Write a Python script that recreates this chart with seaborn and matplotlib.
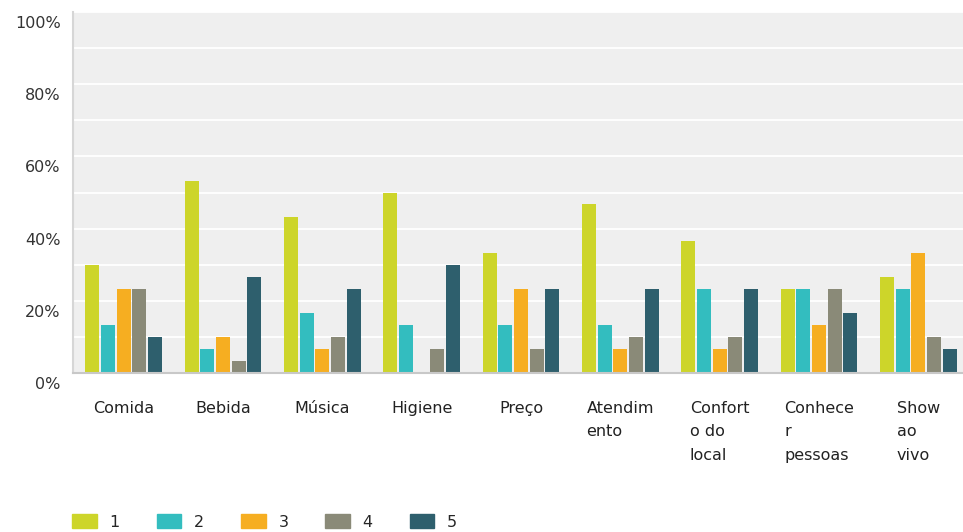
import matplotlib
matplotlib.use("Agg")
import matplotlib.pyplot as plt
import matplotlib.transforms as mtransforms
import numpy as np
import pandas as pd
import seaborn as sns

categories = ["Comida", "Bebida", "Música", "Higiene", "Preço",
              "Atendim\nento", "Confort\no do\nlocal", "Conhece\nr\npessoas", "Show\nao\nvivo"]
series_names = ["1", "2", "3", "4", "5"]
s1 = [30.0, 53.3, 43.3, 50.0, 33.3, 46.7, 36.7, 23.3, 26.7]
s2 = [13.3, 6.7, 16.7, 13.3, 13.3, 13.3, 23.3, 23.3, 23.3]
s3 = [23.3, 10.0, 6.7, 0.0, 23.3, 6.7, 6.7, 13.3, 33.3]
s4 = [23.3, 3.3, 10.0, 6.7, 6.7, 10.0, 10.0, 23.3, 10.0]
s5 = [10.0, 26.7, 23.3, 30.0, 23.3, 23.3, 23.3, 16.7, 6.7]
ytick_values = [0, 20, 40, 60, 80, 100]
ytick_labels = ["0%", "20%", "40%", "60%", "80%", "100%"]
colors = ["#cdd52a", "#33bdbf", "#f6ae21", "#8a8a78", "#2e5f6d"]

rows = []
for name, vals in zip(series_names, [s1, s2, s3, s4, s5]):
    for c, v in zip(categories, vals):
        rows.append({"cat": c, "series": name, "val": v})
df = pd.DataFrame(rows)

sns.set_theme(style="white")
plt.rcParams["font.family"] = ["DejaVu Sans"]

fig = plt.figure(figsize=(9.63, 5.32), dpi=100)
ax = fig.add_axes([73 / 963, 159 / 532, (968 - 73) / 963, 361 / 532])
ax.set_facecolor("#efefef")

sns.barplot(data=df, x="cat", y="val", hue="series", palette=colors,
            order=categories, hue_order=series_names, width=0.79, gap=0.12,
            saturation=1, linewidth=0, ax=ax, legend=True)

ax.set_ylim(0, 100)
ax.set_xlim(-0.51, 8.5)
ax.set_yticks(ytick_values)
ax.set_yticklabels(ytick_labels)
ax.set_yticks([10, 30, 50, 70, 90], minor=True)
ax.grid(True, axis="y", which="both", color="white", linewidth=1.3)
ax.grid(False, axis="x")
ax.set_axisbelow(True)
ax.set_xlabel("")
ax.set_ylabel("")
for s in ["top", "right"]:
    ax.spines[s].set_visible(False)
ax.spines["left"].set_color("#d6d6d6")
ax.spines["left"].set_linewidth(1.5)
ax.spines["bottom"].set_color("#c8c8c8")
ax.spines["bottom"].set_linewidth(1.5)
ax.tick_params(axis="y", which="both", length=0, pad=9, labelsize=11.5, labelcolor="#333333")
ax.tick_params(axis="x", length=0, pad=20, labelsize=11.5, labelcolor="#222222")
for lab in ax.get_xticklabels():
    lab.set_multialignment("left")
    lab.set_va("top")
    lab.set_linespacing(1.7)

offset = mtransforms.ScaledTranslation(0, -10 / 100, fig.dpi_scale_trans)
for lab in ax.get_yticklabels():
    lab.set_transform(lab.get_transform() + offset)

ax.get_legend().remove()
handles = [plt.Rectangle((0, 0), 1, 1, color=c) for c in colors]
fig.legend(handles, series_names, loc="center left", bbox_to_anchor=(72 / 963, 10 / 532),
           ncol=5, frameon=False, fontsize=11.5, handlelength=1.55, handleheight=1.0,
           handletextpad=0.8, columnspacing=2.3, borderpad=0, borderaxespad=0)

fig.savefig("out.png", dpi=100)
